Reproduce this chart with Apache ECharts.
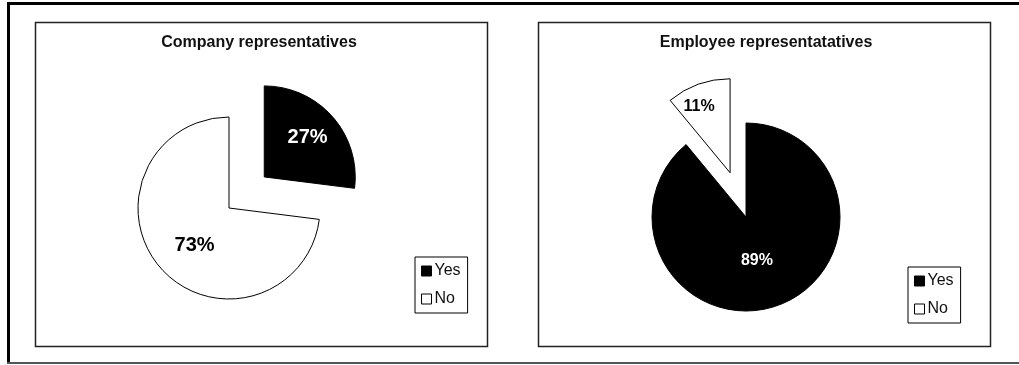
<!DOCTYPE html>
<html>
<head>
<meta charset="utf-8">
<script src="https://cdn.jsdelivr.net/npm/echarts@6/dist/echarts.min.js"></script>
<style>
html,body{margin:0;padding:0;background:#fff;}
#chart{width:1019px;height:365px;}
</style>
</head>
<body>
<div id="chart"></div>
<script>
// ---- data ----
const categories = ['Yes', 'No'];
const titles = ['Company representatives', 'Employee representatatives'];
const companyValues = [27, 73];
const employeeValues = [89, 11];
const explodedIndex = [0, 1]; // which slice is pulled out in each pie

// ---- styles ----
const FONT = 'Arial, "Liberation Sans", sans-serif';
const sliceColors = ['#000000', '#ffffff'];
const labelColors = ['#ffffff', '#000000'];
// small nudges of the inside labels (style only)
const labelNudge = [
  [[7, -7], [2, 5]],
  [[-6, -3], [-14, -19]]
];

function buildData(values, exploded) {
  return values.map((v, i) => ({
    name: categories[i],
    value: v,
    selected: i === exploded,
    itemStyle: { color: sliceColors[i] },
    select: { itemStyle: { color: sliceColors[i], borderColor: '#000', borderWidth: 1 } },
    label: { color: labelColors[i] }
  }));
}

const chart = echarts.init(document.getElementById('chart'), null, { renderer: 'canvas' });

function pieSeries(center, radius, data, fontSize, nudges) {
  return {
    type: 'pie',
    center: center,
    radius: radius,
    startAngle: 90,
    clockwise: true,
    selectedMode: 'single',
    selectedOffset: 47,
    avoidLabelOverlap: false,
    animation: false,
    silent: true,
    itemStyle: { borderColor: '#000', borderWidth: 1 },
    label: {
      show: true,
      position: 'inside',
      formatter: '{d}%',
      fontFamily: FONT,
      fontWeight: 'bold',
      fontSize: fontSize
    },
    labelLayout: function (p) {
      const n = nudges[p.dataIndex];
      return { dx: n[0], dy: n[1] };
    },
    labelLine: { show: false },
    emphasis: { disabled: true },
    data: data
  };
}

function legendAt(left, top) {
  return {
    data: categories,
    orient: 'vertical',
    left: left,
    top: top,
    icon: 'rect',
    itemWidth: 10,
    itemHeight: 10,
    itemGap: 12,
    padding: [6, 7, 6, 6],
    borderColor: '#000',
    borderWidth: 1,
    backgroundColor: '#fff',
    selectedMode: false,
    itemStyle: { borderColor: '#000', borderWidth: 1 },
    textStyle: { fontFamily: FONT, fontSize: 16, color: '#111', padding: [0, 0, 0, -2], lineHeight: 16 }
  };
}

const option = {
  backgroundColor: '#fff',
  animation: false,
  title: [
    { text: titles[0], left: 259, top: 35, textAlign: 'center', padding: 0,
      textStyle: { fontFamily: FONT, fontWeight: 'bold', fontSize: 16, color: '#111' } },
    { text: titles[1], left: 766, top: 35, textAlign: 'center', padding: 0,
      textStyle: { fontFamily: FONT, fontWeight: 'bold', fontSize: 16, color: '#111' } }
  ],
  legend: [legendAt(415, 257), legendAt(908, 267)],
  graphic: [
    { type: 'rect', shape: { x: 7, y: 2, width: 1012, height: 3 }, style: { fill: '#000' }, silent: true },
    { type: 'rect', shape: { x: 7, y: 2, width: 3, height: 362 }, style: { fill: '#000' }, silent: true },
    { type: 'rect', shape: { x: 7, y: 362, width: 1012, height: 2 }, style: { fill: '#555' }, silent: true },
    { type: 'rect', shape: { x: 35.5, y: 22.5, width: 452, height: 324 }, style: { fill: null, stroke: '#222', lineWidth: 1.5 }, silent: true },
    { type: 'rect', shape: { x: 538.5, y: 22.5, width: 452, height: 324 }, style: { fill: null, stroke: '#222', lineWidth: 1.5 }, silent: true }
  ],
  series: [
    pieSeries([229, 208], 91, buildData(companyValues, explodedIndex[0]), 20, labelNudge[0]),
    pieSeries([746, 217], 94, buildData(employeeValues, explodedIndex[1]), 16, labelNudge[1])
  ]
};

chart.setOption(option);
</script>
</body>
</html>
